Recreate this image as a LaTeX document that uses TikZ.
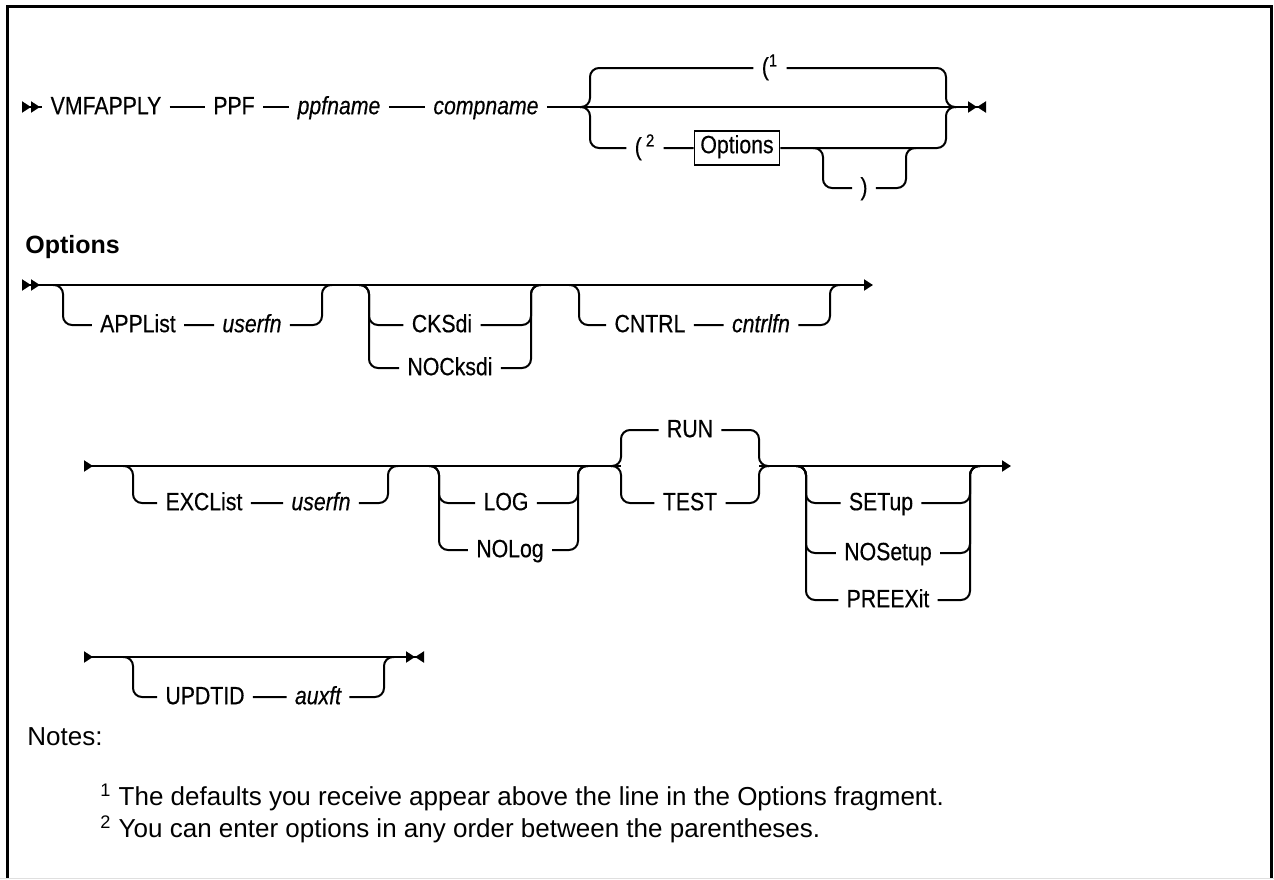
\documentclass[tikz,border=0pt]{standalone}
\usepackage{fontspec}
\setmainfont{Liberation Sans}
\newfontfamily\railfont[FakeStretch=0.85,FakeBold=0.4]{Liberation Sans}
\usetikzlibrary{arrows.meta}

\tikzset{
  rail/.style={line width=1pt, rounded corners=4.5pt},
  kw/.style={font=\railfont\fontsize{12.5}{15}\selectfont, inner xsep=4pt, inner ysep=0pt, text height=0.72em, text depth=0pt},
  var/.style={kw, font=\railfont\fontsize{12.5}{15}\selectfont\itshape},
  frag/.style={kw, draw, line width=0.8pt, inner xsep=3pt, inner ysep=4pt, text depth=0.2em},
  note/.style={anchor=base west, inner sep=0pt, font=\fontsize{13}{16}\selectfont},
}

\begin{document}
\begin{tikzpicture}[x=0.5pt, y=-0.5pt]
  \useasboundingbox (0,0) rectangle (1274,879);
  \draw[line width=1.5pt] (7,879) -- (7,6) -- (1271,6) -- (1271,879);
  \draw[gray!25] (0,878.5) -- (1274,878.5);

  % main statement
  \coordinate (r1s) at (22,107);
  \node[kw] (vmf) at (106,107) {VMFAPPLY};
  \node[kw] (ppf) at (234,107) {PPF};
  \node[var] (ppfn) at (339,107) {ppfname};
  \node[var] (comp) at (486,107) {compname};
  \coordinate (r1a) at (590,107);
  \coordinate (r1b) at (946,107);
  \coordinate (r1e) at (986,107);
  \node[kw] (lp1) at (770,68) {(\textsuperscript{1}};
  \node[kw] (lp2) at (645,148) {(\,\textsuperscript{2}};
  \node[frag] (optref) at (737,148) {Options};
  \coordinate (r1c) at (823,148);
  \coordinate (r1d) at (906,148);
  \node[kw] (rp) at (864,188) {)};

  \draw[rail, {Triangle[reversed,length=4.5pt,width=5.5pt]Triangle[reversed,length=4.5pt,width=5.5pt]}-] (r1s) -- (vmf);
  \draw[rail] (vmf) -- (ppf) (ppf) -- (ppfn) (ppfn) -- (comp) (comp) -- (r1a) -- (r1b);
  \draw[rail, -{Triangle[length=4.5pt,width=5.5pt]Triangle[reversed,length=4.5pt,width=5.5pt]}] (r1b) -- (r1e);
  \draw[rail] ([xshift=-5pt]r1a) -| (r1a |- lp1) -- (lp1) -- (lp1 -| r1b) |- ([xshift=5pt]r1b);
  \draw[rail] ([xshift=-5pt]r1a) -| (r1a |- lp2) -- (lp2) -- (optref) -- (optref -| r1b) |- ([xshift=5pt]r1b);
  \draw[rail] ([xshift=-5pt]r1c) -| (r1c |- rp) -- (rp) -| (r1d) -- ([xshift=5pt]r1d);

  % Options fragment
  \node[anchor=base west, inner sep=0pt, font=\bfseries\fontsize{12.5}{15}\selectfont] (opthead) at (25,253) {Options};

  \coordinate (r2s) at (22,285);
  \coordinate (r2e) at (873,285);
  \draw[rail, {Triangle[reversed,length=4.5pt,width=5.5pt]Triangle[reversed,length=4.5pt,width=5.5pt]}-{Triangle[length=4.5pt,width=5.5pt]}] (r2s) -- (r2e);

  \coordinate (r2a) at (63,285);
  \coordinate (r2b) at (322,285);
  \node[kw] (appl) at (138,325) {APPList};
  \node[var] (usr1) at (252,325) {userfn};
  \draw[rail] ([xshift=-5pt]r2a) -| (r2a |- appl) -- (appl) -- (usr1) -| (r2b) -- ([xshift=5pt]r2b);

  \coordinate (r2c) at (369,285);
  \coordinate (r2d) at (531,285);
  \node[kw] (cks) at (442,325) {CKSdi};
  \node[kw] (nocks) at (450,368) {NOCksdi};
  \draw[rail] ([xshift=-5pt]r2c) -| (r2c |- cks) -- (cks) -| (r2d) -- ([xshift=5pt]r2d);
  \draw[rail] ([xshift=-5pt]r2c) -| (r2c |- nocks) -- (nocks) -| (r2d) -- ([xshift=5pt]r2d);

  \coordinate (r2f) at (579,285);
  \coordinate (r2g) at (830,285);
  \node[kw] (cntrl) at (650,325) {CNTRL};
  \node[var] (cfn) at (761,325) {cntrlfn};
  \draw[rail] ([xshift=-5pt]r2f) -| (r2f |- cntrl) -- (cntrl) -- (cfn) -| (r2g) -- ([xshift=5pt]r2g);

  % second line
  \coordinate (r3s) at (84,466);
  \coordinate (r3e) at (1011,466);
  \coordinate (r3f) at (621,466);
  \coordinate (r3g) at (759,466);
  \draw[rail, {Triangle[reversed,length=4.5pt,width=5.5pt]}-] (r3s) -- (r3f);
  \draw[rail, -{Triangle[length=4.5pt,width=5.5pt]}] (r3g) -- (r3e);

  \coordinate (r3a) at (133,466);
  \coordinate (r3b) at (388,466);
  \node[kw] (excl) at (204,503) {EXCList};
  \node[var] (usr2) at (321,503) {userfn};
  \draw[rail] ([xshift=-5pt]r3a) -| (r3a |- excl) -- (excl) -- (usr2) -| (r3b) -- ([xshift=5pt]r3b);

  \coordinate (r3c) at (439,466);
  \coordinate (r3d) at (578,466);
  \node[kw] (log) at (506,503) {LOG};
  \node[kw] (nolog) at (510,550) {NOLog};
  \draw[rail] ([xshift=-5pt]r3c) -| (r3c |- log) -- (log) -| (r3d) -- ([xshift=5pt]r3d);
  \draw[rail] ([xshift=-5pt]r3c) -| (r3c |- nolog) -- (nolog) -| (r3d) -- ([xshift=5pt]r3d);

  \node[kw] (run) at (690,430) {RUN};
  \node[kw] (test) at (690,503) {TEST};
  \draw[rail] ([xshift=-5pt]r3f) -| (r3f |- run) -- (run) -| (r3g) -- ([xshift=5pt]r3g);
  \draw[rail] ([xshift=-5pt]r3f) -| (r3f |- test) -- (test) -| (r3g) -- ([xshift=5pt]r3g);

  \coordinate (r3h) at (806,466);
  \coordinate (r3i) at (970,466);
  \node[kw] (setup) at (881,503) {SETup};
  \node[kw] (noset) at (888,553) {NOSetup};
  \node[kw] (preex) at (888,600) {PREEXit};
  \draw[rail] ([xshift=-5pt]r3h) -| (r3h |- setup) -- (setup) -| (r3i) -- ([xshift=5pt]r3i);
  \draw[rail] ([xshift=-5pt]r3h) -| (r3h |- noset) -- (noset) -| (r3i) -- ([xshift=5pt]r3i);
  \draw[rail] ([xshift=-5pt]r3h) -| (r3h |- preex) -- (preex) -| (r3i) -- ([xshift=5pt]r3i);

  % third line
  \coordinate (r4s) at (84,657);
  \coordinate (r4e) at (424,657);
  \draw[rail, {Triangle[reversed,length=4.5pt,width=5.5pt]}-{Triangle[length=4.5pt,width=5.5pt]Triangle[reversed,length=4.5pt,width=5.5pt]}] (r4s) -- (r4e);
  \coordinate (r4a) at (133,657);
  \coordinate (r4b) at (384,657);
  \node[kw] (upd) at (205,697) {UPDTID};
  \node[var] (aux) at (318,697) {auxft};
  \draw[rail] ([xshift=-5pt]r4a) -| (r4a |- upd) -- (upd) -- (aux) -| (r4b) -- ([xshift=5pt]r4b);

  % notes
  \node[note] (notes) at (27,745) {Notes:};
  \node[note] (n1) at (100,805) {\textsuperscript{1} The defaults you receive appear above the line in the Options fragment.};
  \node[note] (n2) at (100,837) {\textsuperscript{2} You can enter options in any order between the parentheses.};
\end{tikzpicture}
\end{document}
